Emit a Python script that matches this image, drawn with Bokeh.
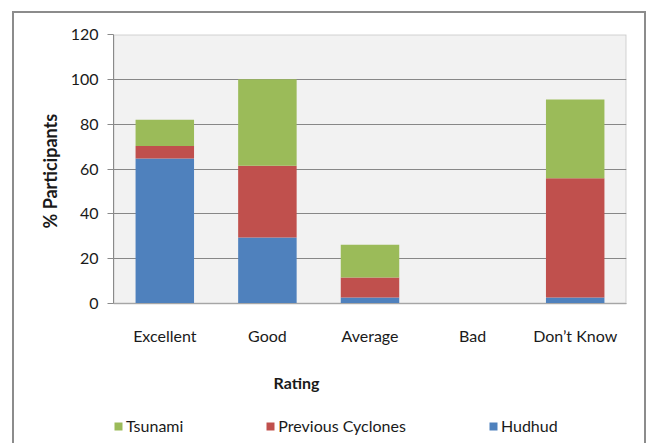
from bokeh.plotting import figure
from bokeh.models import Legend, LegendItem, Label, Title, BoxAnnotation, FactorRange, Range1d
from bokeh.embed import file_html
from bokeh.resources import INLINE

# Survey responses (% of participants) per rating
ratings = ["Excellent", "Good", "Average", "Bad", "Don\u2019t Know"]
hudhud = [64.7, 29.4, 2.7, 0.0, 2.7]
previous_cyclones = [5.6, 32.1, 8.9, 0.0, 53.2]
tsunami = [11.7, 38.5, 14.6, 0.0, 35.1]
y_ticks = [0, 20, 40, 60, 80, 100, 120]

series = ["Hudhud", "Previous Cyclones", "Tsunami"]
colors = ["#4F81BD", "#C0504D", "#9BBB59"]

FONT = "Lato"
TEXT = "#1a1a1a"
EDGE = "#8c8c8c"

# The frame runs to the bottom of the canvas so that the axis title and the
# legend underneath the bars can live inside it; 0..120 keeps 269 px.
Y_MAX = 120
PX_PER_UNIT = 269 / Y_MAX
FRAME_TOP = 34
FRAME_H = 443 - FRAME_TOP
y_start = Y_MAX - FRAME_H / PX_PER_UNIT

p = figure(
    x_range=FactorRange(*ratings),
    y_range=Range1d(y_start, Y_MAX),
    width=649, height=443,
    min_border_left=113, min_border_right=23,
    min_border_top=FRAME_TOP, min_border_bottom=0,
    output_backend="svg", toolbar_location=None,
)

source = dict(rating=ratings, Hudhud=hudhud, Tsunami=tsunami)
source["Previous Cyclones"] = previous_cyclones
renderers = p.vbar_stack(series, x="rating", width=0.57, color=colors,
                         line_color=None, source=source)

# Plot area: grey panel from 0 to 120 with a darker top/right edge
p.background_fill_color = "white"
p.border_fill_alpha = 0
p.outline_line_color = None
p.add_layout(BoxAnnotation(bottom=0, top=Y_MAX, fill_color="#F2F2F2",
                           fill_alpha=1, line_color="#7f7f7f", line_width=2,
                           level="image"))
p.xgrid.grid_line_color = None
p.ygrid.grid_line_color = "#878787"
p.ygrid.grid_line_width = 1
p.ygrid.ticker = y_ticks

# Chart border drawn as the page element's background
line = f"linear-gradient({EDGE}, {EDGE})"
p.styles = {
    "background": (
        f"{line} 12px 11px / 2px 440px no-repeat, "
        f"{line} 12px 11px / 634px 2px no-repeat, "
        f"{line} 644px 11px / 2px 440px no-repeat, white"
    )
}

# Y axis
p.yaxis.ticker = y_ticks
p.yaxis.bounds = (0, Y_MAX)
p.yaxis.axis_line_color = "#8a8a8a"
p.yaxis.major_tick_line_color = "#8a8a8a"
p.yaxis.major_tick_out = 6
p.yaxis.major_tick_in = 0
p.yaxis.minor_tick_line_color = None
p.yaxis.major_label_standoff = 9
p.yaxis.major_label_text_font = FONT
p.yaxis.major_label_text_font_size = "16px"
p.yaxis.major_label_text_color = TEXT

# Y axis title; reads upwards from a point measured from the frame bottom
p.add_layout(Title(text="% Participants", align="left", offset=215,
                   standoff=14, text_font=FONT, text_font_size="18px",
                   text_font_style="bold", text_color=TEXT), "left")

# X axis sits on y = 0
p.xaxis.fixed_location = 0
p.xaxis.axis_line_color = "#a6a6a6"
p.xaxis.major_tick_line_color = None
p.xaxis.major_tick_out = 0
p.xaxis.major_tick_in = 0
p.xaxis.minor_tick_line_color = None
p.xaxis.major_label_standoff = 22
p.xaxis.major_label_text_font = FONT
p.xaxis.major_label_text_font_size = "16px"
p.xaxis.major_label_text_color = TEXT

# Axis title under the category labels
p.add_layout(Label(x=1.784, y=-35.2, text="Rating", text_align="center",
                   text_baseline="middle", text_font=FONT,
                   text_font_size="16px", text_font_style="bold",
                   text_color=TEXT))

# Legend below the chart
items = [LegendItem(label=name, renderers=[r])
         for name, r in reversed(list(zip(series, renderers)))]
legend = Legend(items=items, orientation="horizontal", location=(0, 8),
                spacing=82, glyph_width=10, glyph_height=10, label_standoff=3,
                padding=0, margin=0, border_line_color=None,
                background_fill_alpha=0, label_text_font=FONT,
                label_text_font_size="16px", label_text_color=TEXT)
p.add_layout(legend, "center")

open("out.html", "w").write(file_html(p, INLINE))
